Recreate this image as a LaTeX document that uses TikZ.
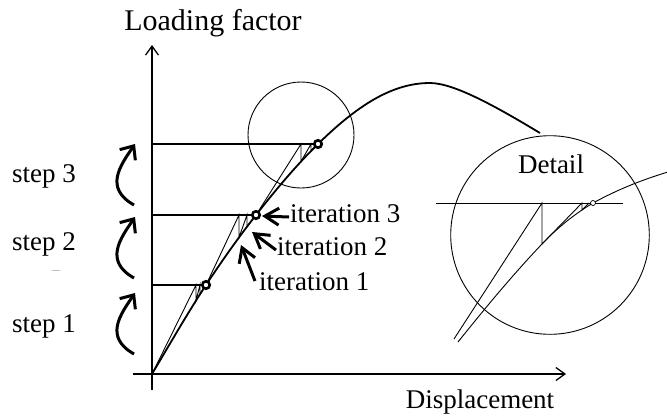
\documentclass[tikz,border=0pt]{standalone}
\usepackage{fontspec}
\setmainfont{Liberation Serif}
\usetikzlibrary{arrows.meta,intersections}
\begin{document}
\begin{tikzpicture}[x=1pt,y=-1pt,
  lbl/.style={font=\fontsize{27}{32}\selectfont, inner sep=0pt},
  biglbl/.style={font=\fontsize{30}{36}\selectfont, inner sep=0pt},
  axis/.style={line width=1.3pt, -{Straight Barb[length=9pt,width=13pt,line width=1.3pt]}},
  curveline/.style={line width=1.8pt},
  secant/.style={line width=0.9pt},
  levelline/.style={line width=1.2pt},
  dot/.style={circle, draw, fill=white, line width=2.6pt, minimum size=7.5pt, inner sep=0pt},
  lens/.style={circle, draw, line width=0.9pt, inner sep=0pt},
  stepar/.style={line width=3pt, -{Straight Barb[length=11pt,width=19pt,line width=3pt]}},
  iterar/.style={line width=3pt, -{Straight Barb[length=14pt,width=17pt,line width=3pt]}},
]
\useasboundingbox (0,0) rectangle (667,418);

% key points
\coordinate (O) at (152,374);
\coordinate (P1) at (206,285);
\coordinate (P2) at (256,215);
\coordinate (P3) at (318,144);
\coordinate (Pk) at (430,83);
\coordinate (Pe) at (540,133);

% axes
\coordinate (ybot) at (152,390);
\coordinate (ytop) at (152,45);
\coordinate (xl) at (133,374);
\coordinate (xr) at (566,374);
\draw[axis] (ybot) -- (ytop);
\draw[axis] (xl) -- (xr);

% main curve
\path[name path=maincurve] (O) .. controls (170,343.8) and (188,312.4) .. (P1)
  .. controls (222.7,259.7) and (239.3,236.3) .. (P2)
  .. controls (276.7,188.5) and (297.3,164.3) .. (P3)
  .. controls (358,104.8) and (392.7,83) .. (Pk)
  .. controls (455,83) and (500,109) .. (Pe);

% vertical drops to the curve
\foreach \xx/\yy/\nm in {196/285/V11, 200/285/V12, 239/215/V21, 247/215/V22, 301/144/V31, 311/144/V32}{
  \path[name path=tmp\nm] (\xx,\yy) -- (\xx,{\yy+70});
  \path[name intersections={of=maincurve and tmp\nm, by=\nm}];
}

% level lines
\draw[levelline] (O |- P1) -- (P1);
\draw[levelline] (O |- P2) -- (P2);
\draw[levelline] (O |- P3) -- (P3);

% iteration secants
\draw[secant] (O) -- (196,285) -- (V11) -- (200,285) -- (V12) -- (P1);
\draw[secant] (P1) -- (239,215) -- (V21) -- (247,215) -- (V22) -- (P2);
\draw[secant] (P2) -- (301,144) -- (V31) -- (311,144) -- (V32) -- (P3);

\draw[curveline] (O) .. controls (170,343.8) and (188,312.4) .. (P1)
  .. controls (222.7,259.7) and (239.3,236.3) .. (P2)
  .. controls (276.7,188.5) and (297.3,164.3) .. (P3)
  .. controls (358,104.8) and (392.7,83) .. (Pk)
  .. controls (455,83) and (500,109) .. (Pe);

% magnifier circle
\node[lens, minimum size=106pt] (mag) at (301,135) {};

% converged points
\node[dot] (c1) at (P1) {};
\node[dot] (c2) at (P2) {};
\node[dot] (c3) at (P3) {};

% detail
\node[lens, minimum size=198.6pt] (detail) at (550,235) {};
\node[lbl, anchor=base] (detlbl) at (551,173) {Detail};
\coordinate (DS) at (458,342);
\coordinate (DM) at (542,244);
\coordinate (DD) at (593,203);
\coordinate (DE) at (668,172);
\coordinate (dl) at (436,203);
\coordinate (dr) at (623,203);
\draw[secant] (dl) -- (dr);
\draw[secant, name path=detcurve] (DS) .. controls (486,307) and (514,273.4) .. (DM)
  .. controls (559,226.1) and (576,213.2) .. (DD)
  .. controls (618,189.3) and (643,179.5) .. (DE);
\path[name path=dv2] (582,203) -- (582,240);
\path[name intersections={of=detcurve and dv2, by=Dv2}];
\coordinate (ds0) at (454,339);
\draw[secant] (ds0) -- (542,203) -- (DM) -- (582,203) -- (Dv2) -- (589,203);
\node[circle, draw, fill=white, line width=0.7pt, minimum size=5pt, inner sep=0pt] (dd) at (DD) {};

% iteration arrows
\coordinate (i3s) at (289,217); \coordinate (i3e) at (262,216);
\coordinate (i2s) at (276,250); \coordinate (i2e) at (252,232);
\coordinate (i1s) at (255,281); \coordinate (i1e) at (241,245);
\draw[iterar] (i3s) -- (i3e);
\draw[iterar] (i2s) -- (i2e);
\draw[iterar] (i1s) -- (i1e);
\node[lbl, anchor=base west] (it3) at (290,222) {iteration 3};
\node[lbl, anchor=base west] (it2) at (277,255) {iteration 2};
\node[lbl, anchor=base west] (it1) at (259,290) {iteration 1};

% step arrows
\foreach \dy in {0,73,149}{
  \draw[stepar, shift={(0,\dy)}] (134,205) .. controls (104,188) and (120,166) .. (135,144);
}
\node[lbl, anchor=base] (s3) at (44,182) {step 3};
\node[lbl, anchor=base] (s2) at (44,250) {step 2};
\node[lbl, anchor=base] (s1) at (44,332) {step 1};
\coordinate (dash1) at (52,270); \coordinate (dash2) at (60,270);
\draw[gray!50, line width=0.7pt] (dash1) -- (dash2);

% axis labels
\node[biglbl, anchor=base] (ylbl) at (213,30) {Loading factor};
\node[lbl, anchor=base] (xlbl) at (480,408) {Displacement};
\end{tikzpicture}
\end{document}
